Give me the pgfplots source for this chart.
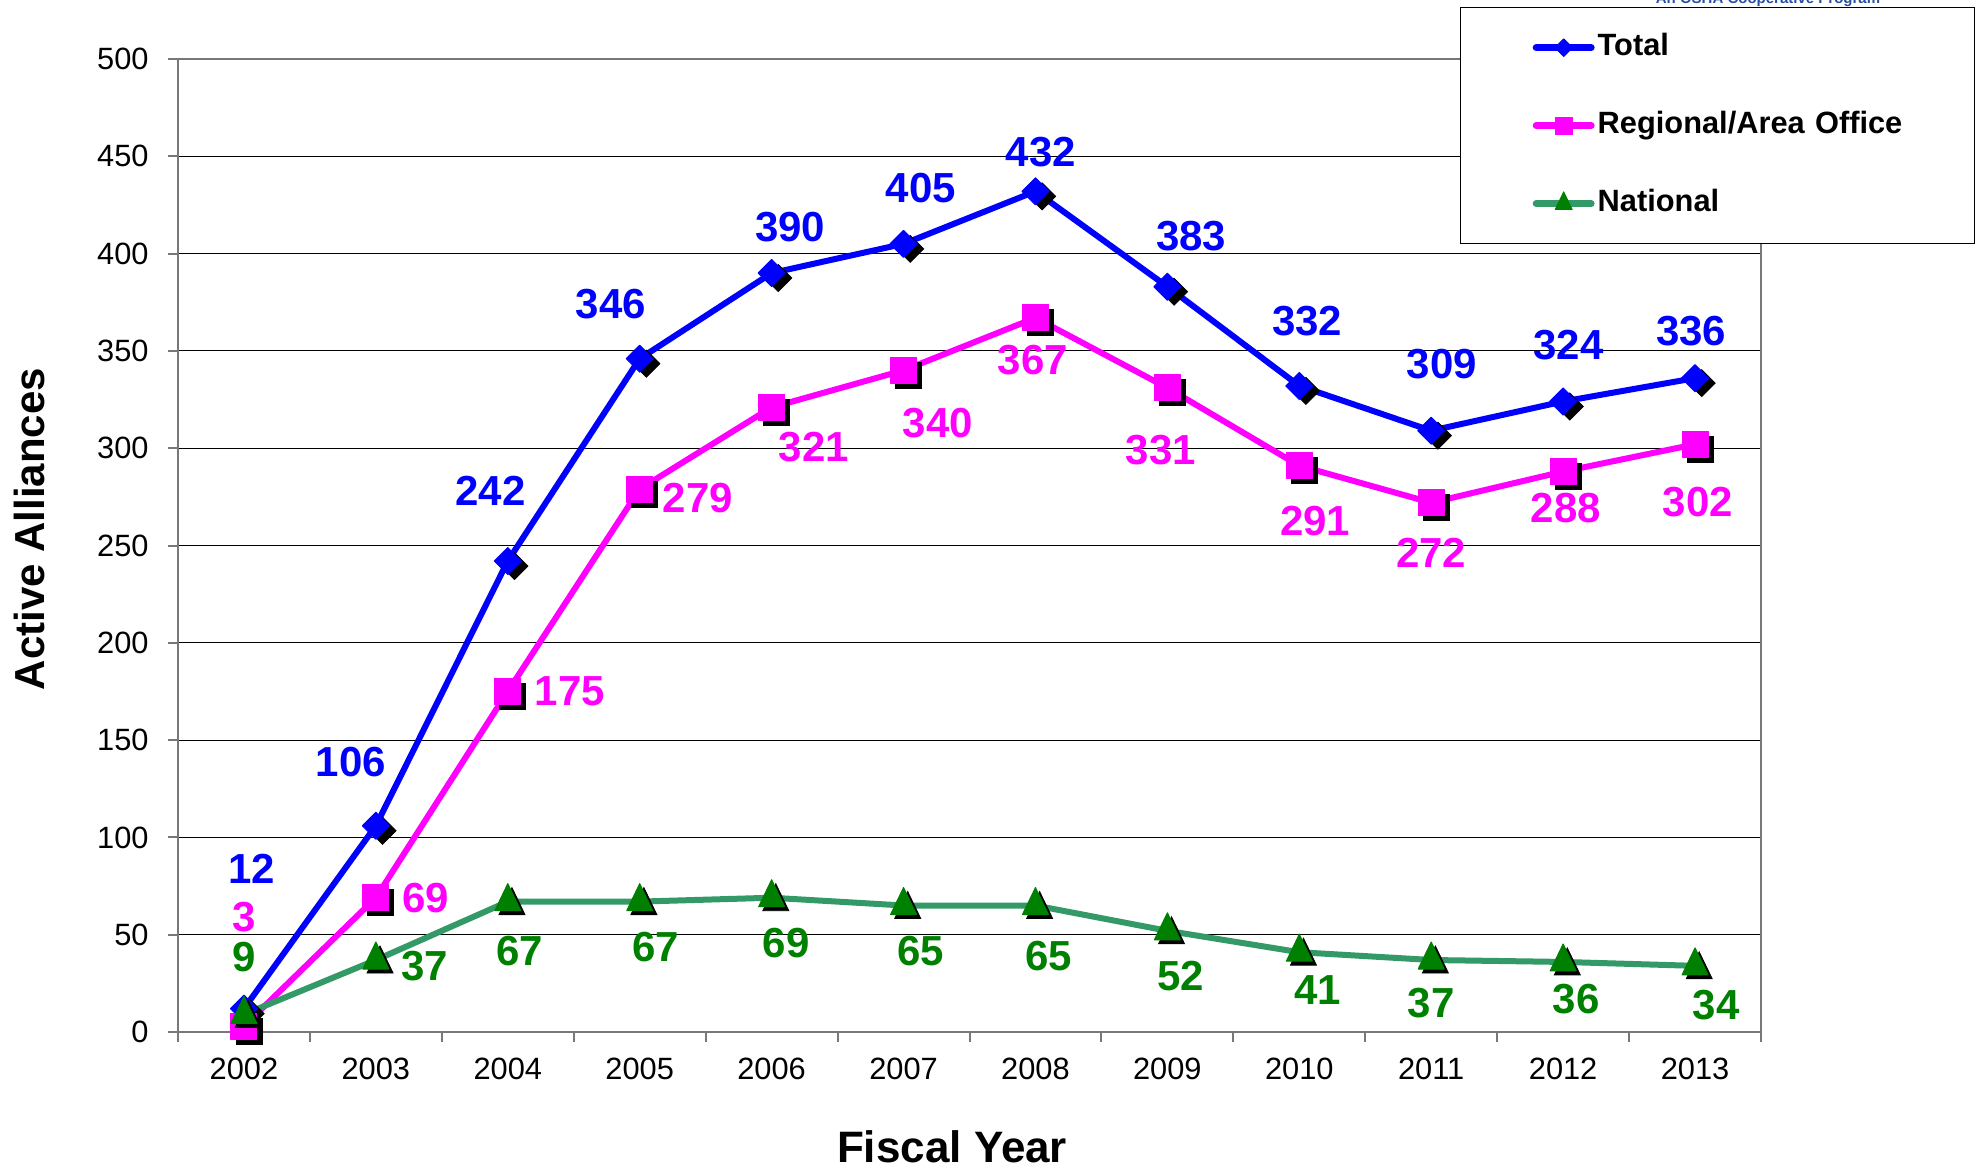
\documentclass[border=0pt]{standalone}
\usepackage{pgfplots}
\pgfplotsset{compat=1.18}
\usepackage{fontspec}
\setmainfont{Liberation Sans}
\definecolor{ctot}{RGB}{0,0,255}
\definecolor{creg}{RGB}{255,0,255}
\definecolor{cnatl}{RGB}{51,153,102}
\definecolor{cnatm}{RGB}{0,128,0}
\definecolor{axgray}{RGB}{120,120,120}
\definecolor{oshablue}{RGB}{40,80,160}
\begin{document}
\begin{tikzpicture}[x=1pt,y=1pt]
\useasboundingbox (0,0) rectangle (991.5,584.5);
\node[anchor=base, font=\fontsize{7.5}{9}\bfseries\selectfont, text=oshablue, inner sep=0pt] at (884,582.5) {An OSHA Cooperative Program};
\begin{axis}[
  at={(89pt,68.5pt)}, anchor=south west,
  scale only axis, width=791.5pt, height=486.5pt,
  xmin=-0.5, xmax=11.5, ymin=0, ymax=500,
  clip=false,
  axis line style={axgray, line width=1pt},
  xtick={0,1,2,3,4,5,6,7,8,9,10,11},
  xticklabels={2002,2003,2004,2005,2006,2007,2008,2009,2010,2011,2012,2013},
  major x tick style={draw=none},
  minor xtick={-0.5,0.5,1.5,2.5,3.5,4.5,5.5,6.5,7.5,8.5,9.5,10.5,11.5},
  minor x tick style={axgray, line width=1pt},
  ytick={0,50,...,500},
  y tick style={axgray, line width=1pt},
  tick align=outside,
  major tick length=5pt, minor tick length=5pt,
  tick pos=left,
  ymajorgrids, grid style={black, line width=0.5pt},
  tick label style={font=\fontsize{15.4}{18}\selectfont},
  /pgf/number format/assume math mode=true,
  yticklabel style={anchor=east, inner xsep=0pt, xshift=-9.5pt},
  xticklabel style={anchor=north, inner ysep=0pt, yshift=-8pt},
  xlabel={Fiscal Year}, ylabel={Active Alliances},
  every axis x label/.style={at={(axis description cs:0.489,-0.1336)}, anchor=base, font=\fontsize{22}{26}\bfseries\selectfont},
  every axis y label/.style={at={(axis description cs:-0.0935,0.517)}, rotate=90, anchor=center, font=\fontsize{21}{25}\bfseries\selectfont},
  legend style={at={(axis description cs:0.8099,1.0534)}, anchor=north west,
    draw=black, line width=0.6pt, fill=white,
    inner xsep=36pt, inner ysep=13pt, row sep=25pt,
    font=\fontsize{15.4}{18}\bfseries\selectfont,
    cells={anchor=west},
    nodes={inner xsep=0pt, inner ysep=0pt, text height=11pt, text depth=3pt},
    /tikz/every odd column/.append style={column sep=1.5pt},
    /tikz/every even column/.append style={text width=152.5pt}},
  legend cell align=left,
  legend image code/.code={%
    \draw[#1, mark=none, line width=3.5pt, line cap=round] (0pt,0pt) -- (27.5pt,0pt);
    \draw[#1, every mark/.append style={scale=0.65}] plot coordinates {(13.75pt,0pt)};},
]
% shadows and series
\addplot[forget plot, only marks, black, mark=diamond*, mark size=6.75pt, mark options={xscale=1.333, xshift=2.5pt, yshift=-2.5pt}]
 coordinates {(0,12)(1,106)(2,242)(3,346)(4,390)(5,405)(6,432)(7,383)(8,332)(9,309)(10,324)(11,336)};
\addplot[ctot, line width=3pt, line join=round, mark=diamond*, mark size=6.75pt, mark options={xscale=1.333, line width=0.5pt, fill=ctot}]
 coordinates {(0,12)(1,106)(2,242)(3,346)(4,390)(5,405)(6,432)(7,383)(8,332)(9,309)(10,324)(11,336)};
\addlegendentry{\mbox{Total}}
\addplot[forget plot, only marks, black, mark=square*, mark size=6.5pt, mark options={xshift=2.5pt, yshift=-2.5pt}]
 coordinates {(0,3)(1,69)(2,175)(3,279)(4,321)(5,340)(6,367)(7,331)(8,291)(9,272)(10,288)(11,302)};
\addplot[creg, line width=3pt, line join=round, mark=square*, mark size=6.5pt, mark options={line width=0.5pt, fill=creg}]
 coordinates {(0,3)(1,69)(2,175)(3,279)(4,321)(5,340)(6,367)(7,331)(8,291)(9,272)(10,288)(11,302)};
\addlegendentry{\mbox{Regional/Area Office}}
\addplot[forget plot, only marks, black, mark=triangle*, mark size=9pt, mark options={xscale=0.834, xshift=2.5pt, yshift=-2pt}]
 coordinates {(0,9)(1,37)(2,67)(3,67)(4,69)(5,65)(6,65)(7,52)(8,41)(9,37)(10,36)(11,34)};
\addplot[cnatl, line width=3pt, line join=round, mark=triangle*, mark size=9pt, mark options={xscale=0.834, line width=0.5pt, draw=cnatm, fill=cnatm}]
 coordinates {(0,9)(1,37)(2,67)(3,67)(4,69)(5,65)(6,65)(7,52)(8,41)(9,37)(10,36)(11,34)};
\addlegendentry{\mbox{National}}
% data labels
\begin{scope}[every node/.style={font=\fontsize{21}{25}\bfseries\selectfont, inner sep=0pt, anchor=center}]
\node[text=ctot] at (axis cs:0.06,83.9) {12};
\node[text=ctot] at (axis cs:0.81,138.5) {106};
\node[text=ctot] at (axis cs:1.87,278) {242};
\node[text=ctot] at (axis cs:2.78,374) {346};
\node[text=ctot] at (axis cs:4.14,413.5) {390};
\node[text=ctot] at (axis cs:5.13,433.7) {405};
\node[text=ctot] at (axis cs:6.04,452) {432};
\node[text=ctot] at (axis cs:7.18,409) {383};
\node[text=ctot] at (axis cs:8.06,365.4) {332};
\node[text=ctot] at (axis cs:9.08,343.3) {309};
\node[text=ctot] at (axis cs:10.04,353) {324};
\node[text=ctot] at (axis cs:10.97,360) {336};
\node[text=creg] at (axis cs:0,59.2) {3};
\node[text=creg] at (axis cs:1.38,68.9) {69};
\node[text=creg] at (axis cs:2.47,174.9) {175};
\node[text=creg] at (axis cs:3.44,274.4) {279};
\node[text=creg] at (axis cs:4.32,300.4) {321};
\node[text=creg] at (axis cs:5.26,312.7) {340};
\node[text=creg] at (axis cs:5.98,345.3) {367};
\node[text=creg] at (axis cs:6.95,299) {331};
\node[text=creg] at (axis cs:8.12,262.7) {291};
\node[text=creg] at (axis cs:9.0,246.4) {272};
\node[text=creg] at (axis cs:10.02,269.2) {288};
\node[text=creg] at (axis cs:11.02,272.4) {302};
\node[text=cnatm] at (axis cs:0,38.4) {9};
\node[text=cnatm] at (axis cs:1.37,33.8) {37};
\node[text=cnatm] at (axis cs:2.09,41.6) {67};
\node[text=cnatm] at (axis cs:3.12,43.6) {67};
\node[text=cnatm] at (axis cs:4.11,45.5) {69};
\node[text=cnatm] at (axis cs:5.13,41.6) {65};
\node[text=cnatm] at (axis cs:6.1,39) {65};
\node[text=cnatm] at (axis cs:7.1,28.6) {52};
\node[text=cnatm] at (axis cs:8.14,21.5) {41};
\node[text=cnatm] at (axis cs:9.0,15) {37};
\node[text=cnatm] at (axis cs:10.1,16.9) {36};
\node[text=cnatm] at (axis cs:11.16,13.7) {34};
\end{scope}
\end{axis}
\end{tikzpicture}
\end{document}
